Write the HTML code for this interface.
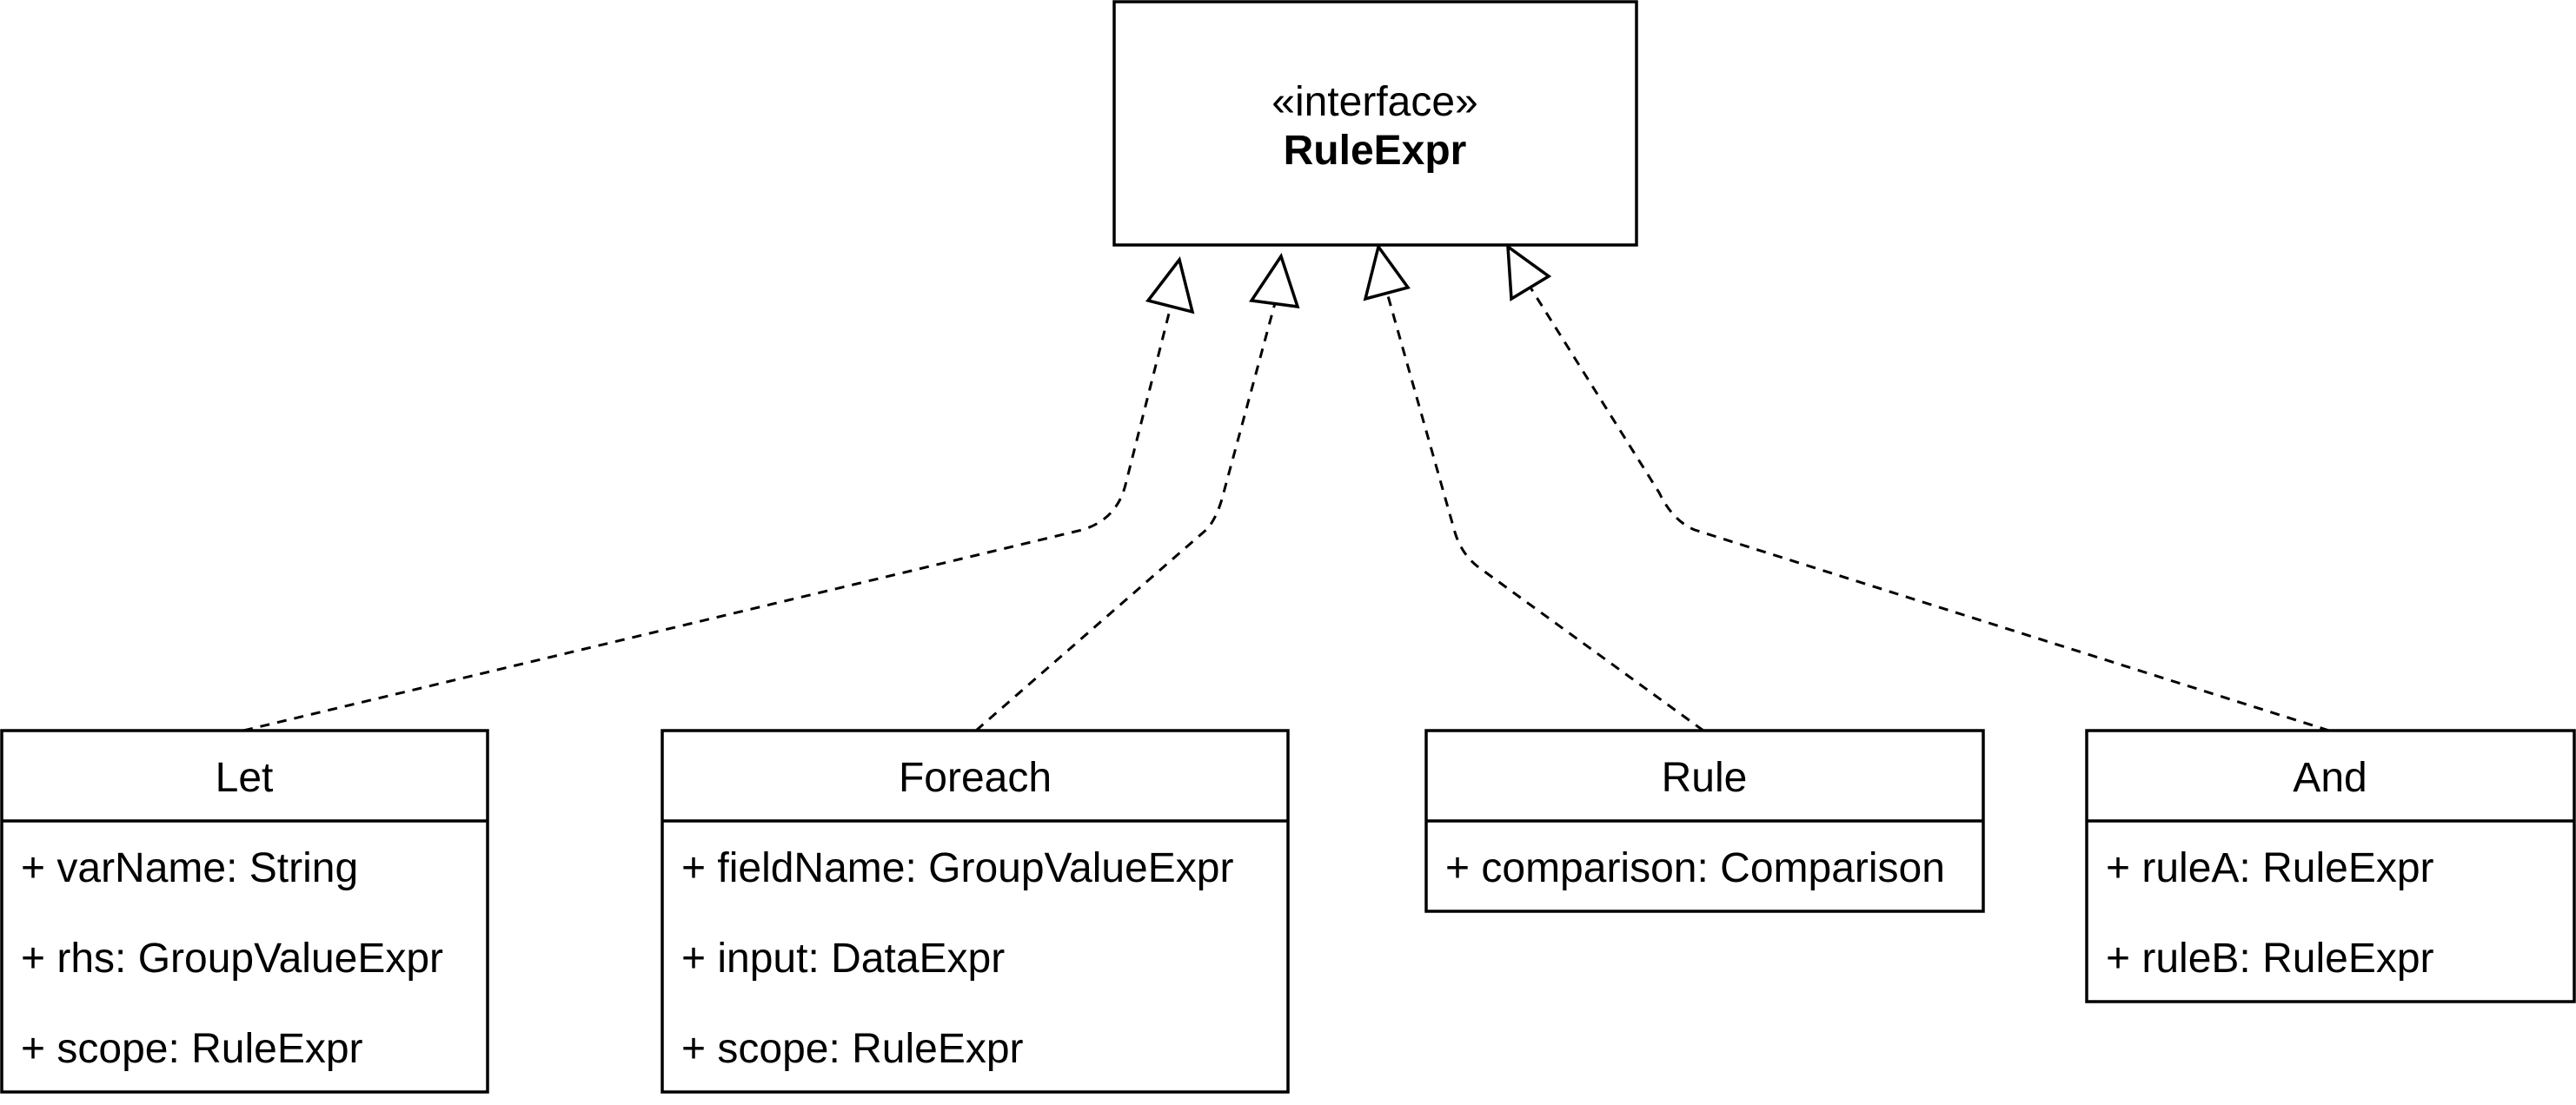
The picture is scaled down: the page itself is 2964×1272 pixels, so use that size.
<!DOCTYPE html>
<html><head><meta charset="utf-8"><style>
html,body{margin:0;padding:0;background:#fff;}
svg{display:block;}
text{font-family:"Liberation Sans",Arial,sans-serif;fill:#000;}
</style></head><body>
<svg width="2964" height="1272" viewBox="0 0 2964 1272" xmlns="http://www.w3.org/2000/svg">
<g fill="none" stroke="#000" stroke-width="3" stroke-dasharray="11,9">
<path d="M280,841 L1245,610 Q1285,598 1295,558 L1347,353"/>
<path d="M1123,841 L1390,608 Q1402,592 1408,567 L1467,349"/>
<path d="M1960,841 L1700,652 Q1680,636 1673,609 L1596,337"/>
<path d="M2680,841 L1950,610 Q1925,600 1909,567 L1761,331"/>
</g>
<g fill="#fff" stroke="#000" stroke-width="3.5" stroke-linejoin="miter">
<polygon points="1357,299 1321,346 1372,359"/>
<polygon points="1474,295 1440,346 1493,353"/>
<polygon points="1586,284 1571,344 1620,331"/>
<polygon points="1735,284 1739,344 1782,318"/>
</g>
<g fill="#fff" stroke="#000" stroke-width="3.5">
<rect x="1282" y="2" width="601" height="280"/>
<rect x="2" y="841" width="559" height="416"/>
<rect x="762" y="841" width="720" height="416"/>
<rect x="1641" y="841" width="641" height="208"/>
<rect x="2401" y="841" width="561" height="312"/>
</g>
<g stroke="#000" stroke-width="3.5">
<line x1="2" y1="945" x2="561" y2="945"/>
<line x1="762" y1="945" x2="1482" y2="945"/>
<line x1="1641" y1="945" x2="2282" y2="945"/>
<line x1="2401" y1="945" x2="2962" y2="945"/>
</g>
<g font-size="48">
<text x="1582" y="133" text-anchor="middle">«interface»</text>
<text x="1582" y="189" text-anchor="middle" font-weight="bold">RuleExpr</text>
<text x="281" y="911" text-anchor="middle">Let</text>
<text x="1122" y="911" text-anchor="middle">Foreach</text>
<text x="1961" y="911" text-anchor="middle">Rule</text>
<text x="2681" y="911" text-anchor="middle">And</text>
<text x="24" y="1015">+ varName: String</text>
<text x="24" y="1119">+ rhs: GroupValueExpr</text>
<text x="24" y="1223">+ scope: RuleExpr</text>
<text x="784" y="1015">+ fieldName: GroupValueExpr</text>
<text x="784" y="1119">+ input: DataExpr</text>
<text x="784" y="1223">+ scope: RuleExpr</text>
<text x="1663" y="1015">+ comparison: Comparison</text>
<text x="2423" y="1015">+ ruleA: RuleExpr</text>
<text x="2423" y="1119">+ ruleB: RuleExpr</text>
</g>
</svg>
</body></html>
